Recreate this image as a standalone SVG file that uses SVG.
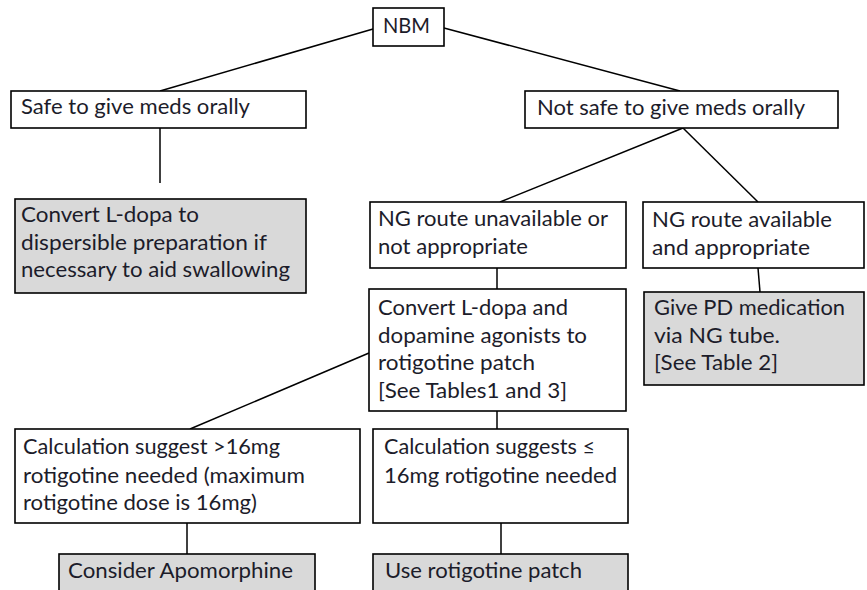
<svg xmlns="http://www.w3.org/2000/svg" width="867" height="590" viewBox="0 0 867 590">
<style>
.box{fill:#fff;stroke:#000;stroke-width:1.6}
.grey{fill:#d9d9d9;stroke:#000;stroke-width:1.6}
.t{font-family:Lato,"Liberation Sans",sans-serif;font-size:21px;fill:#1c1c2a}
.c line{stroke:#000;stroke-width:1.5}
</style>
<rect width="867" height="590" fill="#fff"/>
<g class="c" id="connectors">
<line x1="373" y1="29" x2="160" y2="91"/>
<line x1="444" y1="28" x2="680" y2="91"/>
<line x1="160" y1="128" x2="160" y2="183"/>
<line x1="683" y1="128" x2="500" y2="202"/>
<line x1="683" y1="128" x2="758" y2="202"/>
<line x1="497" y1="268" x2="497" y2="289"/>
<line x1="758" y1="268" x2="760" y2="292"/>
<line x1="369" y1="353" x2="190" y2="429"/>
<line x1="497" y1="411" x2="497" y2="429"/>
<line x1="187" y1="523" x2="187" y2="554"/>
<line x1="501" y1="523" x2="501" y2="554"/>
</g>
<g id="nbm"><rect class="box" x="373" y="8" width="71" height="38"/>
<text class="t" x="383" y="33" textLength="47" lengthAdjust="spacingAndGlyphs">NBM</text></g>
<g id="safe"><rect class="box" x="11" y="91" width="295" height="37"/>
<text class="t" x="21" y="114" textLength="229" lengthAdjust="spacingAndGlyphs">Safe to give meds orally</text></g>
<g id="notsafe"><rect class="box" x="525" y="91" width="313" height="37"/>
<text class="t" x="537" y="115" textLength="268" lengthAdjust="spacingAndGlyphs">Not safe to give meds orally</text></g>
<g id="dispersible"><rect class="grey" x="15" y="199" width="291" height="94"/>
<text class="t" x="21" y="222" textLength="178" lengthAdjust="spacingAndGlyphs">Convert L-dopa to</text>
<text class="t" x="21" y="250" textLength="246" lengthAdjust="spacingAndGlyphs">dispersible preparation if</text>
<text class="t" x="21" y="277" textLength="269" lengthAdjust="spacingAndGlyphs">necessary to aid swallowing</text></g>
<g id="ngunavail"><rect class="box" x="370" y="202" width="256" height="66"/>
<text class="t" x="378" y="226" textLength="230" lengthAdjust="spacingAndGlyphs">NG route unavailable or</text>
<text class="t" x="378" y="254" textLength="150" lengthAdjust="spacingAndGlyphs">not appropriate</text></g>
<g id="ngavail"><rect class="box" x="643" y="202" width="221" height="66"/>
<text class="t" x="652" y="227" textLength="180" lengthAdjust="spacingAndGlyphs">NG route available</text>
<text class="t" x="652" y="255" textLength="158" lengthAdjust="spacingAndGlyphs">and appropriate</text></g>
<g id="convert"><rect class="box" x="369" y="289" width="257" height="122"/>
<text class="t" x="378" y="315" textLength="190" lengthAdjust="spacingAndGlyphs">Convert L-dopa and</text>
<text class="t" x="378" y="343" textLength="209" lengthAdjust="spacingAndGlyphs">dopamine agonists to</text>
<text class="t" x="378" y="370" textLength="157" lengthAdjust="spacingAndGlyphs">rotigotine patch</text>
<text class="t" x="378" y="398" textLength="189" lengthAdjust="spacingAndGlyphs">[See Tables1 and 3]</text></g>
<g id="givepd"><rect class="grey" x="644" y="292" width="220" height="93"/>
<text class="t" x="654" y="315" textLength="191" lengthAdjust="spacingAndGlyphs">Give PD medication</text>
<text class="t" x="654" y="343" textLength="126" lengthAdjust="spacingAndGlyphs">via NG tube.</text>
<text class="t" x="654" y="370" textLength="124" lengthAdjust="spacingAndGlyphs">[See Table 2]</text></g>
<g id="calcmore"><rect class="box" x="15" y="429" width="345" height="94"/>
<text class="t" x="23" y="454" textLength="257" lengthAdjust="spacingAndGlyphs">Calculation suggest &gt;16mg</text>
<text class="t" x="23" y="483" textLength="282" lengthAdjust="spacingAndGlyphs">rotigotine needed (maximum</text>
<text class="t" x="23" y="510" textLength="234" lengthAdjust="spacingAndGlyphs">rotigotine dose is 16mg)</text></g>
<g id="calcless"><rect class="box" x="373" y="429" width="255" height="94"/>
<text class="t" x="384" y="454" textLength="211" lengthAdjust="spacingAndGlyphs">Calculation suggests ≤</text>
<text class="t" x="384" y="483" textLength="233" lengthAdjust="spacingAndGlyphs">16mg rotigotine needed</text></g>
<g id="apomorphine"><rect class="grey" x="59" y="554" width="256" height="50"/>
<text class="t" x="68" y="578" textLength="225" lengthAdjust="spacingAndGlyphs">Consider Apomorphine</text></g>
<g id="patch"><rect class="grey" x="373" y="554" width="255" height="50"/>
<text class="t" x="385" y="578" textLength="197" lengthAdjust="spacingAndGlyphs">Use rotigotine patch</text></g>
</svg>
